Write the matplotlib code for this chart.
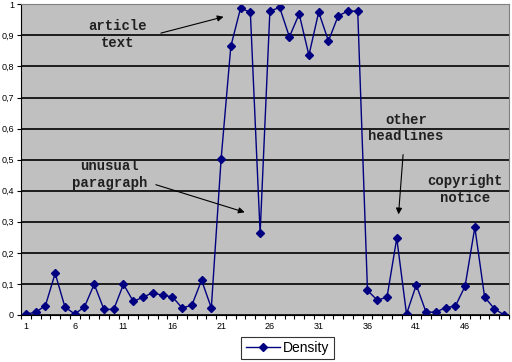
import numpy as np
import matplotlib
matplotlib.use("Agg")
import matplotlib.pyplot as plt

# gustoca po bloku teksta
density = [0.003, 0.009, 0.030, 0.134, 0.026, 0.003, 0.026, 0.099, 0.018, 0.018,
           0.099, 0.044, 0.057, 0.072, 0.063, 0.059, 0.023, 0.031, 0.112, 0.023,
           0.501, 0.865, 0.988, 0.974, 0.263, 0.978, 0.990, 0.895, 0.969, 0.836,
           0.975, 0.882, 0.963, 0.978, 0.978, 0.079, 0.048, 0.057, 0.247, 0.003,
           0.097, 0.009, 0.009, 0.024, 0.028, 0.093, 0.282, 0.058, 0.020, 0.000]
blocks = np.arange(1, len(density) + 1)
x_labels = [1, 6, 11, 16, 21, 26, 31, 36, 41, 46]
y_ticks = [0, 0.1, 0.2, 0.3, 0.4, 0.5, 0.6, 0.7, 0.8, 0.9, 1]
y_labels = ["0", "0,1", "0,2", "0,3", "0,4", "0,5", "0,6", "0,7", "0,8", "0,9", "1"]

plt.rcParams["font.family"] = ["Liberation Sans", "DejaVu Sans"]

fig = plt.figure(figsize=(5.12, 3.62), dpi=100)
ax = fig.add_axes([21 / 512, 47 / 362, 488 / 512, 310.7 / 362])
ax.set_facecolor("#c0c0c0")

line, = ax.plot(blocks, density, color="#000080", lw=1, marker="D", ms=3.8,
                label="Density")

ax.set_xlim(0.5, len(density) + 0.5)
ax.set_ylim(0, 1)
ax.set_yticks(y_ticks)
ax.set_yticklabels(y_labels, fontsize=6.5)
ax.set_xticks(x_labels)
ax.set_xticklabels([str(v) for v in x_labels], fontsize=6.5)
ax.set_xticks(np.arange(0.5, len(density) + 1, 1), minor=True)
ax.tick_params(axis="x", which="major", length=0, pad=5)
ax.tick_params(axis="x", which="minor", length=3, width=0.8)
ax.tick_params(axis="y", length=3, width=0.8, pad=2)
ax.grid(axis="y", color="black", lw=1.2)
ax.set_axisbelow(True)
for s in ["top", "right"]:
    ax.spines[s].set_color("#808080")
for s in ["left", "bottom"]:
    ax.spines[s].set_color("black")

mono = dict(family=["Liberation Mono", "DejaVu Sans Mono"], fontsize=10,
            weight="bold", ha="center", va="center", linespacing=1.2,
            color="#202020")
arrow = dict(arrowstyle="-|>", color="black", lw=0.8, mutation_scale=9)

ax.text(10.35, 0.903, "article\ntext", **mono)
ax.annotate("", xy=(21.53, 0.962), xytext=(14.56, 0.905), arrowprops=arrow)
ax.text(9.55, 0.452, "unusual\nparagraph", **mono)
ax.annotate("", xy=(23.69, 0.328), xytext=(14.05, 0.422), arrowprops=arrow)
ax.text(39.93, 0.603, "other\nheadlines", **mono)
ax.annotate("", xy=(39.16, 0.315), xytext=(39.67, 0.525), arrowprops=arrow)
ax.text(45.98, 0.404, "copyright\nnotice", **mono)

leg = fig.legend(handles=[line], loc="center", bbox_to_anchor=(287.5 / 512, 1 - 348 / 362),
                 fontsize=10, frameon=True, fancybox=False, edgecolor="black",
                 handlelength=2.5, borderpad=0.3, handletextpad=0.2)
leg.get_frame().set_linewidth(0.8)

fig.savefig("out.png", dpi=100, facecolor="white")
